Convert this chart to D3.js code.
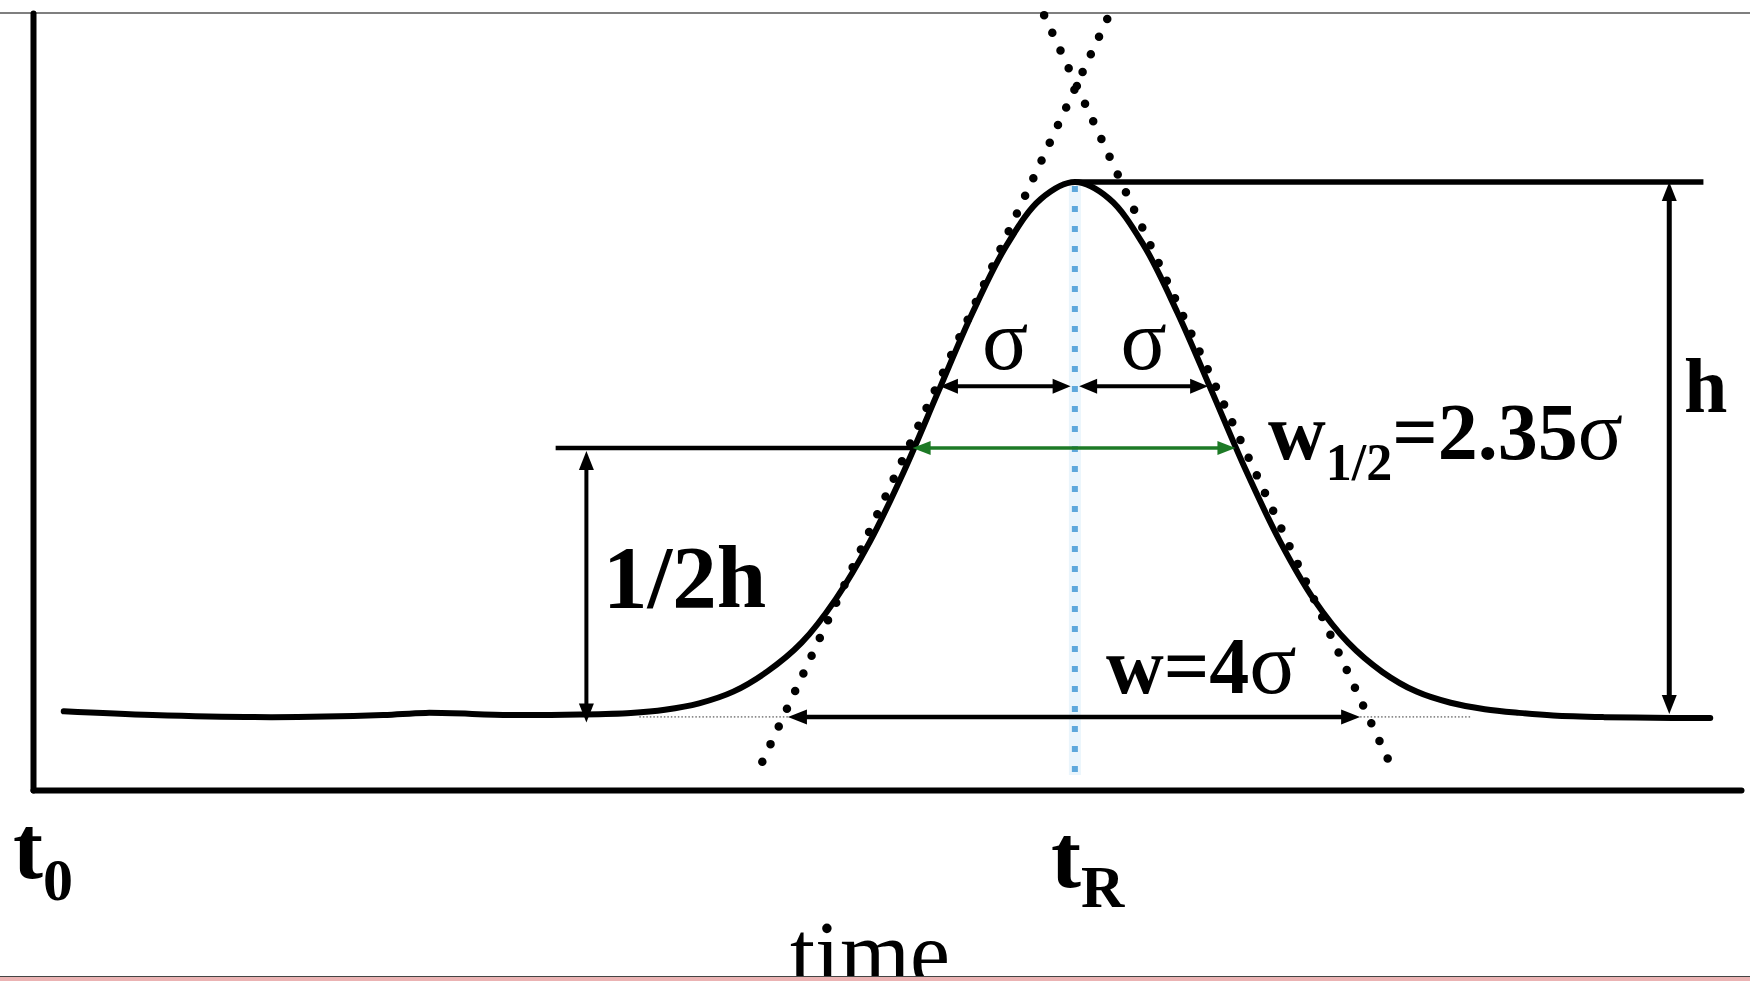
<!DOCTYPE html>
<html>
<head>
<meta charset="utf-8">
<script src="https://cdn.jsdelivr.net/npm/d3@7"></script>
<style>
  html, body { margin: 0; padding: 0; background: #fff; overflow: hidden; }
  svg { display: block; }
</style>
</head>
<body>
<svg id="chart" width="1750" height="981"></svg>
<script>
// Chromatographic peak: time (arbitrary units) vs detector signal (% of peak height h)
const peakTimes  = [1.8, 7, 14, 20.5, 23, 28, 32, 35, 37, 39,
                    41, 43, 45, 47, 49, 51, 53, 55, 57, 59,
                    61, 63, 65, 67, 69, 71, 73, 75, 77, 79,
                    81, 83, 85, 87, 89, 92, 96, 98.2];
const peakSignal = [0.5, -0.2, -0.6, -0.2, 0.2, -0.2, -0.1, 0.2, 0.8, 2.0,
                    4.2, 8.0, 13.4, 21.6, 32.4, 45.7, 60.6, 75.4, 88.1, 96.8,
                    100, 96.9, 88.3, 75.5, 60.8, 45.9, 32.5, 21.5, 13.4, 7.9,
                    4.2, 2.1, 0.9, 0.2, -0.3, -0.6, -0.75, -0.75];

// Time axis marks: injection time and retention time
const tickTimes = [0, 61];
const tickMain  = ["t", "t"];
const tickSub   = ["0", "R"];

// Construction lines (time, signal)
const retentionTime   = 61;
const peakHeight      = 100;
const halfHeight      = 50;
const tangentLeft     = [[42.7, -9.0], [63.0, 131.4]];
const tangentRight    = [[59.2, 131.4], [79.4, -9.0]];
const sigmaLevel      = 61.6;
const sigmaArrows     = [[53.1, 60.75], [61.25, 68.8]];
const halfWidthArrow  = [51.5, 70.4];
const baseWidthArrow  = [44.2, 77.7];
const baseWidthLevel  = -0.56;
const baseGuideLeft   = [35.5, 44.2];
const baseGuideRight  = [77.7, 84.2];
const heightArrowTime = 95.8;
const heightLineEnd   = 97.8;
const halfLineStart   = 30.6;
const halfArrowTime   = 32.4;
const halfArrowBottom = -1.6;
const retentionLineEnd = -11.5;

const W = 1750, H = 981;
const svg = d3.select("#chart");
const serif = "'Liberation Serif', 'Times New Roman', serif";

const x = d3.scaleLinear().domain([0, 100]).range([33, 1741]);
const y = d3.scaleLinear().domain([-14.3, 131.8]).range([790, 13]);

svg.append("rect").attr("width", W).attr("height", H).attr("fill", "#fff");

// top edge of the figure
svg.append("line").attr("x1", 0).attr("x2", W).attr("y1", 13).attr("y2", 13)
  .attr("stroke", "#555").attr("stroke-width", 1.6);

// Arrow helper: line with filled triangular heads
function arrow(g, x1, y1, x2, y2, opts) {
  const o = Object.assign({color: "#000", width: 4.5, len: 19, half: 7.5, start: true, end: true}, opts);
  const dx = x2 - x1, dy = y2 - y1, L = Math.hypot(dx, dy);
  const ux = dx / L, uy = dy / L, px = -uy, py = ux;
  const s = o.start ? o.len - 3 : 0, e = o.end ? o.len - 3 : 0;
  g.append("line")
    .attr("x1", x1 + ux * s).attr("y1", y1 + uy * s)
    .attr("x2", x2 - ux * e).attr("y2", y2 - uy * e)
    .attr("stroke", o.color).attr("stroke-width", o.width);
  const head = (tx, ty, dirx, diry) => {
    const bx = tx - dirx * o.len, by = ty - diry * o.len;
    g.append("path")
      .attr("d", `M${tx},${ty}L${bx + px * o.half},${by + py * o.half}L${bx - px * o.half},${by - py * o.half}Z`)
      .attr("fill", o.color);
  };
  if (o.end) head(x2, y2, ux, uy);
  if (o.start) head(x1, y1, -ux, -uy);
}

// axes (no ticks, just the frame lines)
const xAxis = svg.append("g").attr("transform", `translate(0,${y.range()[0]})`)
  .call(d3.axisBottom(x).tickValues([]).tickSizeOuter(0));
const yAxis = svg.append("g").attr("transform", `translate(${x.range()[0]},0)`)
  .call(d3.axisLeft(y).tickValues([]).tickSizeOuter(0));
[xAxis, yAxis].forEach(a => a.select(".domain")
  .attr("stroke", "#000").attr("stroke-width", 6).attr("stroke-linecap", "round"));

// retention time marker (light blue dotted)
svg.append("line")
  .attr("x1", x(retentionTime)).attr("x2", x(retentionTime))
  .attr("y1", y(peakHeight) + 4).attr("y2", y(retentionLineEnd))
  .attr("stroke", "#eaf5fc").attr("stroke-width", 12);
svg.append("line")
  .attr("x1", x(retentionTime)).attr("x2", x(retentionTime))
  .attr("y1", y(peakHeight) + 4).attr("y2", y(retentionLineEnd))
  .attr("stroke", "#5ea8dc").attr("stroke-width", 6)
  .attr("stroke-dasharray", "6 14");

// faint guides along the baseline under the tangents' feet
[baseGuideLeft, baseGuideRight].forEach(r => {
  svg.append("line")
    .attr("x1", x(r[0])).attr("x2", x(r[1]))
    .attr("y1", y(baseWidthLevel)).attr("y2", y(baseWidthLevel))
    .attr("stroke", "#8a8a8a").attr("stroke-width", 1.8)
    .attr("stroke-dasharray", "1.5 2");
});

// peak height line and half height line
svg.append("line")
  .attr("x1", x(retentionTime)).attr("x2", x(heightLineEnd))
  .attr("y1", y(peakHeight)).attr("y2", y(peakHeight))
  .attr("stroke", "#000").attr("stroke-width", 5.5);
svg.append("line")
  .attr("x1", x(halfLineStart)).attr("x2", x(halfWidthArrow[0]))
  .attr("y1", y(halfHeight)).attr("y2", y(halfHeight))
  .attr("stroke", "#000").attr("stroke-width", 4.5);

// signal trace
const line = d3.line()
  .x((d, i) => x(peakTimes[i]))
  .y((d, i) => y(peakSignal[i]))
  .curve(d3.curveCatmullRom.alpha(0.5));
svg.append("path")
  .attr("d", line(peakTimes))
  .attr("fill", "none").attr("stroke", "#000")
  .attr("stroke-width", 6).attr("stroke-linecap", "round");

// tangents through the inflection points (dotted)
[tangentLeft, tangentRight].forEach(t => {
  svg.append("line")
    .attr("x1", x(t[0][0])).attr("y1", y(t[0][1]))
    .attr("x2", x(t[1][0])).attr("y2", y(t[1][1]))
    .attr("stroke", "#000").attr("stroke-width", 8.5)
    .attr("stroke-linecap", "round").attr("stroke-dasharray", "0 19.5");
});

const ann = svg.append("g");
// h
arrow(ann, x(heightArrowTime), y(peakHeight), x(heightArrowTime), y(0), {width: 5});
// 1/2 h
arrow(ann, x(halfArrowTime), y(halfHeight) + 3, x(halfArrowTime), y(halfArrowBottom), {width: 4});
// sigma
sigmaArrows.forEach(r => arrow(ann, x(r[0]), y(sigmaLevel), x(r[1]), y(sigmaLevel), {width: 4, len: 18, half: 7.5}));
// half width (green)
arrow(ann, x(halfWidthArrow[0]), y(halfHeight), x(halfWidthArrow[1]), y(halfHeight),
  {color: "#1d7a26", width: 3.5, len: 18, half: 7});
// base width
arrow(ann, x(baseWidthArrow[0]), y(baseWidthLevel), x(baseWidthArrow[1]), y(baseWidthLevel), {width: 4.5});

// labels
const txt = svg.append("g").attr("font-family", serif).attr("fill", "#000");

txt.append("text").attr("x", 603).attr("y", 607)
  .attr("font-size", 89).attr("font-weight", "bold").text("1/2h");

txt.append("text").attr("x", 1684).attr("y", 412)
  .attr("font-size", 78).attr("font-weight", "bold").text("h");

sigmaArrows.forEach(r => {
  txt.append("text").attr("x", x((r[0] + r[1]) / 2)).attr("y", 369)
    .attr("text-anchor", "middle").attr("font-size", 86).text("\u03C3");
});

const wh = txt.append("text").attr("x", 1268).attr("y", 459).attr("font-size", 80);
wh.append("tspan").attr("font-weight", "bold").text("w");
wh.append("tspan").attr("font-size", 52).attr("font-weight", "bold").attr("dy", 21).text("1/2");
wh.append("tspan").attr("font-weight", "bold").attr("dy", -21).text("=2.35");
wh.append("tspan").attr("font-size", 84).text("\u03C3");

const wb = txt.append("text").attr("x", 1106).attr("y", 693).attr("font-size", 80);
wb.append("tspan").attr("font-weight", "bold").text("w=4");
wb.append("tspan").attr("font-size", 88).text("\u03C3");

// axis marks t0 and tR
const tickPos = [[13, 878, 900], [1051, 887, 907]];
tickTimes.forEach((t, i) => {
  const tt = txt.append("text").attr("x", tickPos[i][0]).attr("y", tickPos[i][1])
    .attr("font-weight", "bold");
  tt.append("tspan").attr("font-size", 90).text(tickMain[i]);
  tt.append("tspan").attr("font-size", 60).attr("dy", tickPos[i][2] - tickPos[i][1]).text(tickSub[i]);
});

txt.append("text").attr("x", 870).attr("y", 984).attr("text-anchor", "middle")
  .attr("font-size", 90).text("time");

// bottom edge of the figure
svg.append("rect").attr("x", 0).attr("y", 976).attr("width", W).attr("height", 5).attr("fill", "#ebb3b3");
svg.append("line").attr("x1", 0).attr("x2", W).attr("y1", 976.5).attr("y2", 976.5)
  .attr("stroke", "#444").attr("stroke-width", 1.2);
</script>
</body>
</html>
